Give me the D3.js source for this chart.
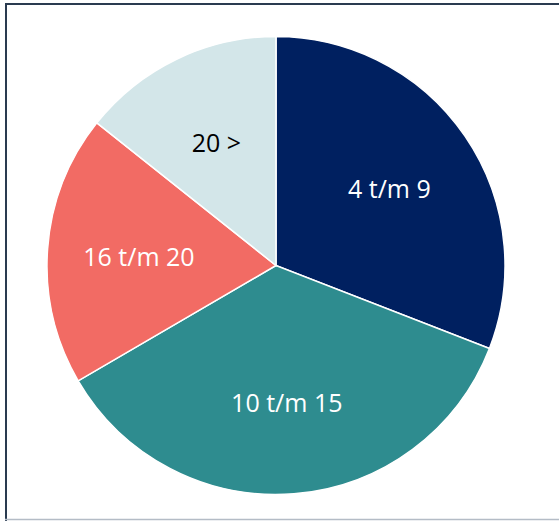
<!DOCTYPE html>
<html>
<head>
<meta charset="utf-8">
<script src="https://cdn.jsdelivr.net/npm/d3@7"></script>
<style>
html,body{margin:0;padding:0;background:#fff;}
svg{display:block;}
</style>
</head>
<body>
<svg id="chart" width="559" height="521"></svg>
<script>
const categories = ["4 t/m 9", "10 t/m 15", "16 t/m 20", "20 >"];
const values = [30.9, 35.7, 19.1, 14.3];
const colors = ["#002060", "#2e8c8f", "#f26b64", "#d3e6e9"];
const labelColors = ["#ffffff", "#ffffff", "#ffffff", "#000000"];

const svg = d3.select("#chart");
const W = 559, H = 521;

// frame
svg.append("line").attr("x1", 5).attr("x2", W).attr("y1", 4).attr("y2", 4)
  .attr("stroke", "#2a3b50").attr("stroke-width", 2);
svg.append("line").attr("x1", 6).attr("x2", 6).attr("y1", 3).attr("y2", H)
  .attr("stroke", "#2a3b50").attr("stroke-width", 2);
svg.append("line").attr("x1", 5).attr("x2", W).attr("y1", 519.5).attr("y2", 519.5)
  .attr("stroke", "#b4bcc6").attr("stroke-width", 1.5);

const cx = 276, cy = 265.5, R = 229;
const g = svg.append("g").attr("transform", `translate(${cx},${cy})`);

const data = categories.map((c, i) => ({cat: c, value: values[i], color: colors[i], lc: labelColors[i]}));
const pie = d3.pie().value(d => d.value).sort(null);
const arc = d3.arc().innerRadius(0).outerRadius(R);
const labelArc = d3.arc().innerRadius(R * 0.6).outerRadius(R * 0.6);

const arcs = pie(data);
g.selectAll("path").data(arcs).join("path")
  .attr("d", arc)
  .attr("fill", d => d.data.color)
  .attr("stroke", "#ffffff")
  .attr("stroke-width", 1.5);

g.selectAll("text").data(arcs).join("text")
  .attr("transform", d => `translate(${labelArc.centroid(d)})`)
  .attr("text-anchor", "middle")
  .attr("dominant-baseline", "central")
  .attr("font-family", "'Open Sans', 'Liberation Sans', Arial, sans-serif")
  .attr("font-size", 25)
  .attr("fill", d => d.data.lc)
  .text(d => d.data.cat);
</script>
</body>
</html>
